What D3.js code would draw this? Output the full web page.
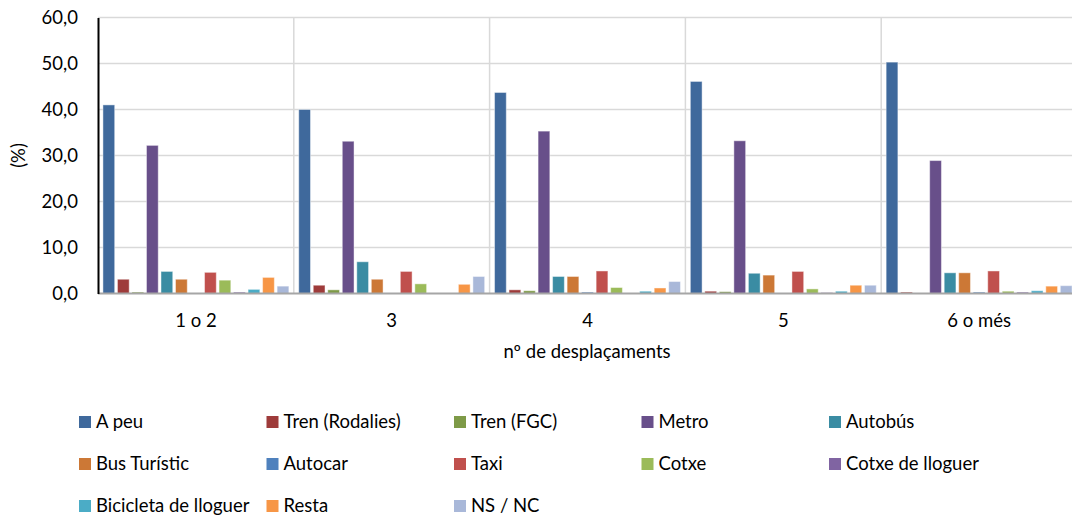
<!DOCTYPE html>
<html>
<head>
<meta charset="utf-8">
<script src="https://cdn.jsdelivr.net/npm/d3@7"></script>
<style>
  body { margin: 0; background: #fff; }
  svg { display: block; font-family: Lato, "Open Sans", sans-serif; }
</style>
</head>
<body>
<script>
// Categories (x axis) and series
var categories = ["1 o 2", "3", "4", "5", "6 o més"];
var seriesNames = ["A peu", "Tren (Rodalies)", "Tren (FGC)", "Metro", "Autobús",
  "Bus Turístic", "Autocar", "Taxi", "Cotxe", "Cotxe de lloguer",
  "Bicicleta de lloguer", "Resta", "NS / NC"];
var seriesColors = ["#3F699C", "#9E3B3A", "#7E9A47", "#684F8A", "#3A8CA3",
  "#CC7836", "#4F81BD", "#C0504D", "#9BBB59", "#8064A2",
  "#4BACC6", "#F79646", "#A9B8D9"];

// values per series, one per category
var aPeu        = [41.0, 40.0, 43.7, 46.1, 50.3];
var trenRod     = [3.1, 1.8, 0.8, 0.5, 0.3];
var trenFgc     = [0.3, 0.8, 0.6, 0.4, 0.0];
var metro       = [32.2, 33.1, 35.3, 33.2, 28.9];
var autobus     = [4.8, 6.9, 3.7, 4.4, 4.5];
var busTuristic = [3.1, 3.1, 3.7, 4.0, 4.5];
var autocar     = [0.0, 0.0, 0.3, 0.0, 0.3];
var taxi        = [4.6, 4.8, 4.9, 4.8, 4.9];
var cotxe       = [2.9, 2.1, 1.3, 1.0, 0.5];
var cotxeLlog   = [0.3, 0.0, 0.0, 0.2, 0.3];
var bicicleta   = [0.9, 0.0, 0.5, 0.5, 0.6];
var resta       = [3.5, 2.0, 1.2, 1.8, 1.6];
var nsnc        = [1.6, 3.7, 2.6, 1.8, 1.7];

var yTicks = [0, 10, 20, 30, 40, 50, 60];

var allSeries = [aPeu, trenRod, trenFgc, metro, autobus, busTuristic, autocar,
  taxi, cotxe, cotxeLlog, bicicleta, resta, nsnc];

var width = 1072, height = 520;
var margin = { left: 98, right: -5, top: 17.5, bottom: 226.5 };
var fontSize = 18.5;

var svg = d3.select("body").append("svg")
    .attr("width", width)
    .attr("height", height);

var x0 = d3.scaleBand()
    .domain(categories)
    .range([margin.left, width - margin.right])
    .padding(0);

var x1 = d3.scaleBand()
    .domain(seriesNames)
    .range([0, x0.bandwidth()])
    .paddingInner(0.19)
    .paddingOuter(0.34);

var y = d3.scaleLinear()
    .domain([0, 60])
    .range([height - margin.bottom, margin.top]);

// horizontal gridlines
svg.append("g")
  .selectAll("line")
  .data(yTicks.slice(1))
  .enter().append("line")
    .attr("x1", margin.left)
    .attr("x2", width)
    .attr("y1", function(d) { return y(d); })
    .attr("y2", function(d) { return y(d); })
    .attr("stroke", "#D9D9D9")
    .attr("stroke-width", 1.5);

// vertical gridlines between categories
svg.append("g")
  .selectAll("line")
  .data(categories.slice(1))
  .enter().append("line")
    .attr("x1", function(d) { return x0(d); })
    .attr("x2", function(d) { return x0(d); })
    .attr("y1", y(60))
    .attr("y2", y(0))
    .attr("stroke", "#D9D9D9")
    .attr("stroke-width", 1.5);

// bars
var groups = svg.append("g")
  .selectAll("g")
  .data(categories)
  .enter().append("g")
    .attr("transform", function(d) { return "translate(" + x0(d) + ",0)"; });

groups.selectAll("rect")
  .data(function(c, ci) {
    return seriesNames.map(function(s, si) { return { s: s, i: si, v: allSeries[si][ci] }; });
  })
  .enter().append("rect")
    .filter(function(d) { return d.v > 0; })
    .attr("x", function(d) { return x1(d.s); })
    .attr("width", x1.bandwidth())
    .attr("y", function(d) { return y(d.v); })
    .attr("height", function(d) { return y(0) - y(d.v); })
    .attr("fill", function(d) { return seriesColors[d.i]; })
    .attr("stroke", "#fff")
    .attr("stroke-opacity", 0.45)
    .attr("stroke-width", 1);

// x axis
var xAxis = svg.append("g")
    .attr("transform", "translate(0," + y(0) + ")")
    .call(d3.axisBottom(x0).tickSize(0).tickPadding(20));
xAxis.select(".domain").attr("stroke", "#A6A6A6").attr("stroke-width", 2)
    .attr("d", "M" + margin.left + ",0H" + width);
xAxis.selectAll("text").attr("font-size", fontSize).attr("fill", "#000")
    .attr("font-family", "Lato, sans-serif");

// y axis
var yAxis = svg.append("g")
    .attr("transform", "translate(" + margin.left + ",0)")
    .call(d3.axisLeft(y).tickValues(yTicks).tickSize(0).tickPadding(20)
      .tickFormat(function(d) { return d3.format(".1f")(d).replace(".", ","); }));
yAxis.select(".domain").attr("stroke", "#000").attr("stroke-width", 2);
yAxis.selectAll("text").attr("font-size", fontSize).attr("fill", "#000")
    .attr("font-family", "Lato, sans-serif");

// axis titles
svg.append("text")
    .attr("transform", "translate(25," + (y(30)) + ") rotate(-90)")
    .attr("text-anchor", "middle")
    .attr("font-size", fontSize)
    .text("(%)");

svg.append("text")
    .attr("x", 587)
    .attr("y", 358)
    .attr("text-anchor", "middle")
    .attr("font-size", fontSize)
    .text("nº de desplaçaments");

// legend
var legend = svg.append("g")
  .selectAll("g")
  .data(seriesNames)
  .enter().append("g")
    .attr("transform", function(d, i) {
      return "translate(" + (79 + (i % 5) * 187.5) + "," + (422 + Math.floor(i / 5) * 42) + ")";
    });
legend.append("rect")
    .attr("x", 0).attr("y", -6)
    .attr("width", 12).attr("height", 12)
    .attr("fill", function(d, i) { return seriesColors[i]; });
legend.append("text")
    .attr("x", 17)
    .attr("dy", "0.35em")
    .attr("font-size", fontSize)
    .text(function(d) { return d; });
</script>
</body>
</html>
